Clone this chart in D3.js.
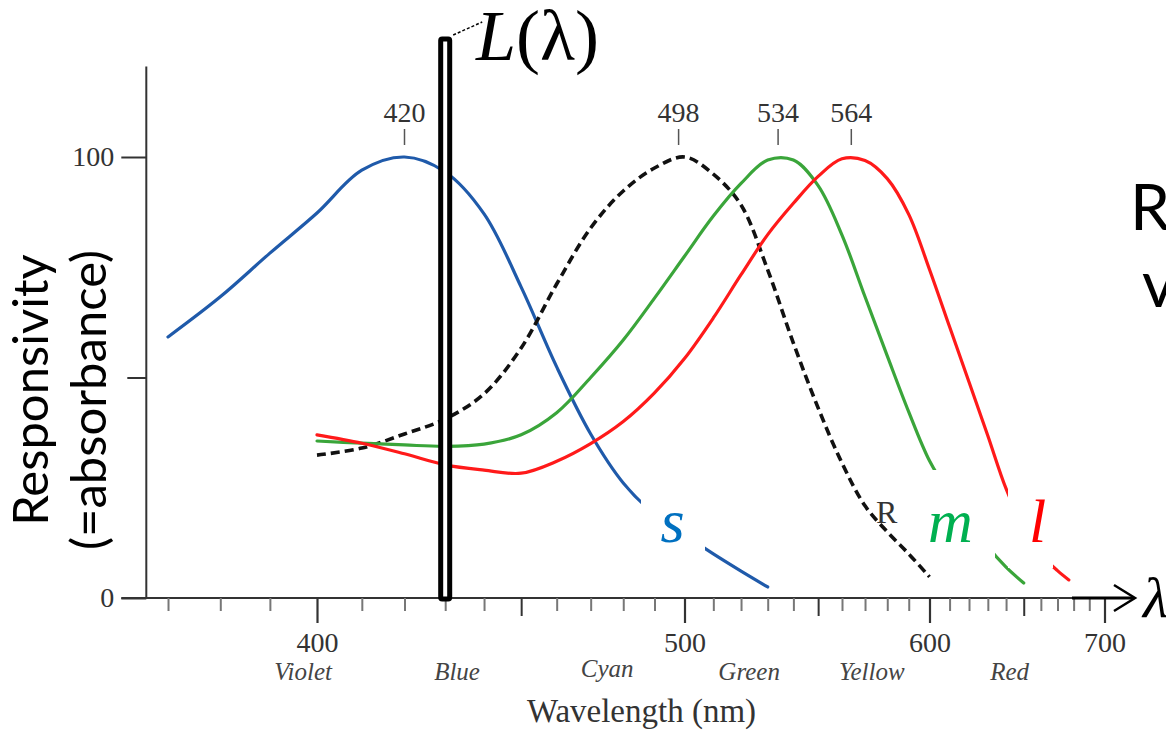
<!DOCTYPE html>
<html><head><meta charset="utf-8">
<script src="https://cdn.jsdelivr.net/npm/d3@7"></script>
<style>
html,body{margin:0;padding:0;background:#fff;}
svg{display:block;}
</style>
</head><body>
<svg id="chart" width="1166" height="731"></svg>
<script>
// ---------- data ----------
const lambdaS = [370,380,390,400,410,420,430,440,450,460,470,480,490,500,510,520,530];
const valuesS = [59.2,68.3,78.2,87.3,97.0,100,96.6,87.1,70.5,52.4,37.2,26.1,19.0,14.3,10.0,6.1,2.5];

const lambdaM = [400,410,420,430,440,450,460,470,480,490,500,510,520,530,540,550,560,570,580,590,600,610,620,630,640,650];
const valuesM = [35.6,35.1,34.7,34.4,34.9,37.0,42.0,50.0,58.5,68.0,77.5,86.6,94.0,99.3,99.3,93.5,82.3,68.3,54.9,42.2,31.1,23.6,17.5,11.6,7.0,3.4];

const lambdaL = [400,410,420,430,440,450,460,470,480,490,500,510,520,530,540,550,560,570,580,590,600,610,620,630,640,650,660,670,677];
const valuesL = [37.0,35.1,32.7,30.2,29.0,28.3,31.0,35.0,40.0,46.5,54.3,63.5,73.3,82.4,89.5,95.6,99.6,99.2,95.1,87.0,74.5,61.5,49.0,36.8,24.8,16.0,10.0,6.2,4.1];

const lambdaR = [400,410,420,430,440,450,460,470,480,490,500,510,520,530,540,550,560,570,580,590,600];
const valuesR = [32.4,34.0,37.2,40.6,46.3,56.7,71.2,83.9,92.3,97.5,100,96.1,89.1,74.4,57.8,43.1,30.6,20.9,15.0,10.0,4.8];

const peakLabels = [420,498,534,564];
const majorTicks = [400,500,600,700];
const midTicks = [450,550,650];
const minorTicks = [370,380,390,410,420,430,440,460,470,480,490,510,520,530,540,560,570,580,590,610,620,630,640,660,670,680,690];
const yTicks = [0,100];
const yMidTick = [50];
const colorNames = ["Violet","Blue","Cyan","Green","Yellow","Red"];
const colorNameLambda = [397,433,475,523,573,642];
const stimulusLambda = 430;

// ---------- scales ----------
const svg = d3.select("#chart");
const x = d3.scalePow().exponent(-1).domain([400,700]).range([317,1104.5]);
const y = d3.scaleLinear().domain([0,100]).range([598,157]);
const serif = "'Liberation Serif','Times New Roman',serif";
const sans = "Lato,'Open Sans',sans-serif";

const axisX = x(366);   // y-axis position

// ---------- axes ----------
svg.append("line").attr("x1",axisX).attr("x2",axisX).attr("y1",y(0)).attr("y2",y(120.5))
  .attr("stroke","#333").attr("stroke-width",2);

const gy = svg.append("g").attr("transform",`translate(${axisX},0)`);
gy.call(d3.axisLeft(y).tickValues(yTicks).tickSize(25).tickPadding(7));
gy.select(".domain").remove();
gy.selectAll("line").attr("stroke","#333").attr("stroke-width",2);
gy.selectAll("text").attr("font-family",serif).attr("font-size",28).attr("fill","#333");
const gy2 = svg.append("g").attr("transform",`translate(${axisX},0)`);
gy2.call(d3.axisLeft(y).tickValues(yMidTick).tickSize(19).tickFormat(""));
gy2.select(".domain").remove();
gy2.selectAll("line").attr("stroke","#333").attr("stroke-width",2);

svg.append("line").attr("x1",axisX-25).attr("x2",x(700)+2).attr("y1",y(0)).attr("y2",y(0))
  .attr("stroke","#333").attr("stroke-width",2);

function tickGroup(vals,size,color){
  const g = svg.append("g").attr("transform",`translate(0,${y(0)})`);
  g.call(d3.axisBottom(x).tickValues(vals).tickSize(size).tickFormat(""));
  g.select(".domain").remove();
  g.selectAll("line").attr("stroke",color).attr("stroke-width",2);
  return g;
}
tickGroup(minorTicks,13,"#777");
tickGroup(midTicks,18,"#333");
const gMaj = svg.append("g").attr("transform",`translate(0,${y(0)})`);
gMaj.call(d3.axisBottom(x).tickValues(majorTicks).tickSize(25));
gMaj.select(".domain").remove();
gMaj.selectAll("line").attr("stroke","#333").attr("stroke-width",2.2);
gMaj.selectAll("text").attr("y",54).attr("dy",null)
  .attr("font-family",serif).attr("font-size",28).attr("fill","#333");

svg.append("g").selectAll("text").data(colorNames).join("text")
  .attr("x",(d,i)=>x(colorNameLambda[i]))
  .attr("y",d=>d==="Cyan"?677:680)
  .attr("text-anchor","middle")
  .attr("font-family",serif).attr("font-style","italic").attr("font-size",25).attr("fill","#444")
  .text(d=>d);

svg.append("text").attr("x",641.5).attr("y",722).attr("text-anchor","middle")
  .attr("font-family",serif).attr("font-size",33).attr("fill","#333").text("Wavelength (nm)");

svg.append("text").attr("transform",`translate(48,390) rotate(-90)`).attr("text-anchor","middle")
  .attr("font-family",sans).attr("font-size",49).attr("fill","#000").text("Responsivity");
svg.append("text").attr("transform",`translate(106,400) rotate(-90)`).attr("text-anchor","middle")
  .attr("font-family",sans).attr("font-size",49).attr("fill","#000").text("(=absorbance)");

const gp = svg.append("g");
gp.selectAll("text").data(peakLabels).join("text")
  .attr("x",d=>x(d)).attr("y",122).attr("text-anchor","middle")
  .attr("font-family",serif).attr("font-size",28).attr("fill","#333").text(d=>d);
gp.selectAll("line").data(peakLabels).join("line")
  .attr("x1",d=>x(d)).attr("x2",d=>x(d)).attr("y1",129).attr("y2",145)
  .attr("stroke","#555").attr("stroke-width",1.5);

// ---------- curves ----------
const line = d3.line().x(d=>x(d[0])).y(d=>y(d[1])).curve(d3.curveCatmullRom.alpha(0.5));
const zip = (a,b)=>a.map((v,i)=>[v,b[i]]);
svg.append("path").datum(zip(lambdaS,valuesS)).attr("d",line)
  .attr("fill","none").attr("stroke","#1f5aaa").attr("stroke-width",3.2).attr("stroke-linecap","round");
svg.append("path").datum(zip(lambdaR,valuesR)).attr("d",line)
  .attr("fill","none").attr("stroke","#111").attr("stroke-width",3.6).attr("stroke-dasharray","9,5");
svg.append("path").datum(zip(lambdaM,valuesM)).attr("d",line)
  .attr("fill","none").attr("stroke","#3aa53a").attr("stroke-width",3.2).attr("stroke-linecap","round");
svg.append("path").datum(zip(lambdaL,valuesL)).attr("d",line)
  .attr("fill","none").attr("stroke","#ff1a1a").attr("stroke-width",3.2).attr("stroke-linecap","round");

// ---------- label masks + labels ----------
const masks = [[641,480,64,72],[918,470,77,88],[1008,480,45,88]];
svg.append("g").selectAll("rect").data(masks).join("rect")
  .attr("x",d=>d[0]).attr("y",d=>d[1]).attr("width",d=>d[2]).attr("height",d=>d[3]).attr("fill","#fff");

const curveLabels = [["s",672.5,"#0070c0"],["m",950.5,"#00b050"],["l",1037.5,"#ff0000"]];
svg.append("g").selectAll("text").data(curveLabels).join("text")
  .attr("x",d=>d[1]).attr("y",542).attr("text-anchor","middle")
  .attr("font-family",serif).attr("font-style","italic").attr("font-size",62)
  .attr("fill",d=>d[2]).text(d=>d[0]);
svg.append("text").attr("x",876).attr("y",523).attr("font-family",serif).attr("font-size",32)
  .attr("fill","#333").text("R");

// ---------- stimulus L(λ) ----------
const sx = x(stimulusLambda);
svg.append("rect").attr("x",sx-4.5).attr("y",39).attr("width",9).attr("height",560).attr("rx",1.5)
  .attr("fill","#fff").attr("stroke","#000").attr("stroke-width",5);
svg.append("line").attr("x1",sx+8).attr("y1",35).attr("x2",sx+37).attr("y2",22)
  .attr("stroke","#000").attr("stroke-width",1.5).attr("stroke-dasharray","3,2");
const Lt = svg.append("text").attr("x",476).attr("y",60).attr("font-family",serif).attr("font-size",72).attr("fill","#000");
Lt.append("tspan").attr("font-style","italic").text("L");
Lt.append("tspan").text("(λ)");

// ---------- wavelength arrow ----------
svg.append("line").attr("x1",1072).attr("x2",1133).attr("y1",y(0)).attr("y2",y(0))
  .attr("stroke","#000").attr("stroke-width",3);
svg.append("polyline").attr("points",`1114,585 1135,${y(0)} 1114,611`)
  .attr("fill","none").attr("stroke","#000").attr("stroke-width",2.5);
svg.append("text").attr("x",1143).attr("y",617).attr("font-family",serif).attr("font-style","italic")
  .attr("font-size",58).attr("fill","#000").text("λ");

// ---------- cut-off slide text ----------
svg.append("text").attr("x",1130).attr("y",230).attr("font-family",sans).attr("font-size",64).attr("fill","#000").text("Re");
svg.append("text").attr("x",1142).attr("y",307).attr("font-family",sans).attr("font-size",64).attr("fill","#000").text("v");
</script>
</body></html>
